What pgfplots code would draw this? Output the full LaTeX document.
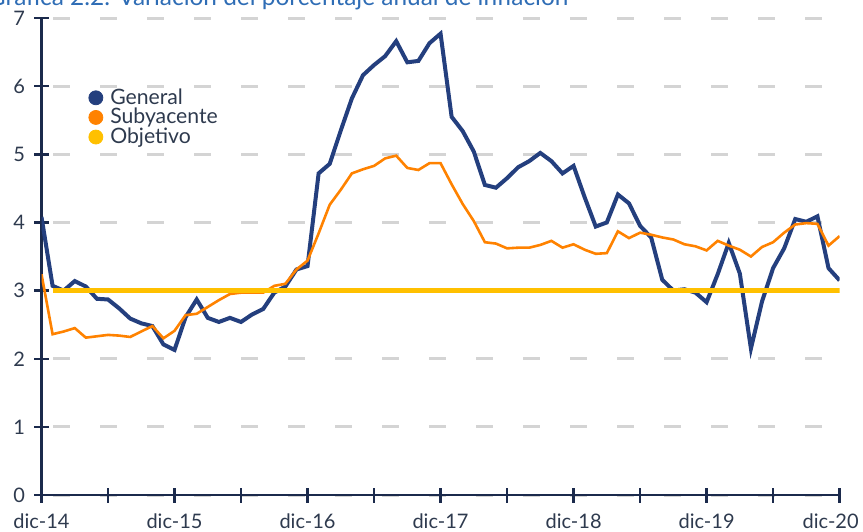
\documentclass[border=0pt]{standalone}
\usepackage{fontspec}
\setmainfont{Lato}
\usepackage{pgfplots}
\pgfplotsset{compat=1.18}
\definecolor{genblue}{HTML}{243F7E}
\definecolor{subor}{HTML}{FF8200}
\definecolor{objgold}{HTML}{FFC000}
\definecolor{axisnavy}{HTML}{1B2A4C}
\definecolor{gridgray}{HTML}{D4D4D4}
\definecolor{labelcol}{HTML}{2E3A4E}
\definecolor{titleblue}{HTML}{2F6DB5}
\begin{document}
\begin{tikzpicture}
\begin{axis}[
  scale only axis, width=399pt, height=238.5pt,
  xmin=0, xmax=72, ymin=0, ymax=7,
  axis x line*=bottom, axis y line*=left,
  axis line style={axisnavy, line width=1.25pt},
  xtick={0,6,...,72},
  xticklabels={dic-14,,dic-15,,dic-16,,dic-17,,dic-18,,dic-19,,{\hspace*{-9pt}dic-20}},
  ytick={0,1,...,7},
  tick align=center, major tick length=7.5pt,
  tick style={axisnavy, line width=1.25pt},
  ymajorgrids,
  grid style={gridgray, line width=1.5pt, dash pattern=on 8.5pt off 15pt, dash phase=17.75pt},
  /pgf/number format/assume math mode=true,
  ticklabel style={font=\fontsize{10}{12}\selectfont, text=labelcol},
  xticklabel style={yshift=-2pt},
  yticklabel style={xshift=-1pt},
  legend style={at={(axis cs:4.2,6.03)}, anchor=north west, draw=none, fill=none,
    font=\fontsize{10.6}{11}\selectfont, text=labelcol, row sep=-3.5pt,
    inner sep=0pt},
  legend cell align=left,
]
\coordinate (SW) at (rel axis cs:0,0);
\coordinate (NE) at (rel axis cs:1,1);
\coordinate (TL) at (rel axis cs:0,1);

\addplot[genblue, line width=2pt, forget plot] coordinates {
(0,4.08) (1,3.07) (2,3.00) (3,3.14) (4,3.06) (5,2.88) (6,2.87) (7,2.74) (8,2.59) (9,2.52) (10,2.48) (11,2.21) (12,2.13)
(13,2.61) (14,2.87) (15,2.60) (16,2.54) (17,2.60) (18,2.54) (19,2.65) (20,2.73) (21,2.97) (22,3.06) (23,3.31) (24,3.36)
(25,4.72) (26,4.86) (27,5.35) (28,5.82) (29,6.16) (30,6.31) (31,6.44) (32,6.66) (33,6.35) (34,6.37) (35,6.63) (36,6.77)
(37,5.55) (38,5.34) (39,5.04) (40,4.55) (41,4.51) (42,4.65) (43,4.81) (44,4.90) (45,5.02) (46,4.90) (47,4.72) (48,4.83)
(49,4.37) (50,3.94) (51,4.00) (52,4.41) (53,4.28) (54,3.95) (55,3.78) (56,3.16) (57,3.00) (58,3.02) (59,2.97) (60,2.83)
(61,3.24) (62,3.70) (63,3.25) (64,2.15) (65,2.84) (66,3.33) (67,3.62) (68,4.05) (69,4.01) (70,4.09) (71,3.33) (72,3.15)
};
\addplot[subor, line width=1.3pt, forget plot] coordinates {
(0,3.24) (1,2.36) (2,2.40) (3,2.45) (4,2.31) (5,2.33) (6,2.35) (7,2.34) (8,2.32) (9,2.40) (10,2.48) (11,2.30) (12,2.41)
(13,2.64) (14,2.66) (15,2.76) (16,2.86) (17,2.95) (18,2.97) (19,2.97) (20,2.97) (21,3.07) (22,3.10) (23,3.31) (24,3.44)
(25,3.84) (26,4.26) (27,4.48) (28,4.72) (29,4.78) (30,4.83) (31,4.94) (32,4.98) (33,4.80) (34,4.77) (35,4.87) (36,4.87)
(37,4.56) (38,4.27) (39,4.02) (40,3.71) (41,3.69) (42,3.62) (43,3.63) (44,3.63) (45,3.67) (46,3.73) (47,3.63) (48,3.68)
(49,3.60) (50,3.54) (51,3.55) (52,3.87) (53,3.77) (54,3.85) (55,3.82) (56,3.78) (57,3.75) (58,3.68) (59,3.65) (60,3.59)
(61,3.73) (62,3.66) (63,3.60) (64,3.50) (65,3.64) (66,3.71) (67,3.85) (68,3.97) (69,3.99) (70,3.98) (71,3.66) (72,3.80)
};
\addplot[objgold, line width=2.5pt, forget plot] coordinates {(1,3) (72,3)};

\addlegendimage{legend image code/.code={\fill[genblue] (3.5pt,0pt) circle (3.5pt); \path (8.5pt,0pt);}}
\addlegendentry{General}
\addlegendimage{legend image code/.code={\fill[subor] (3.5pt,0pt) circle (3.5pt); \path (8.5pt,0pt);}}
\addlegendentry{Subyacente}
\addlegendimage{legend image code/.code={\fill[objgold] (3.5pt,0pt) circle (3.5pt); \path (8.5pt,0pt);}}
\addlegendentry{Objetivo}
\end{axis}
\node[anchor=base west, text=titleblue, font=\fontsize{12.2}{14}\selectfont, inner sep=0pt]
  at ([xshift=-27pt,yshift=6pt]TL) {Gráfica 2.2. Variación del porcentaje anual de inflación};
\pgfresetboundingbox
\path[use as bounding box] ([xshift=-20.75pt,yshift=-18pt]SW) rectangle ([xshift=11.7pt,yshift=9pt]NE);
\end{tikzpicture}
\end{document}
